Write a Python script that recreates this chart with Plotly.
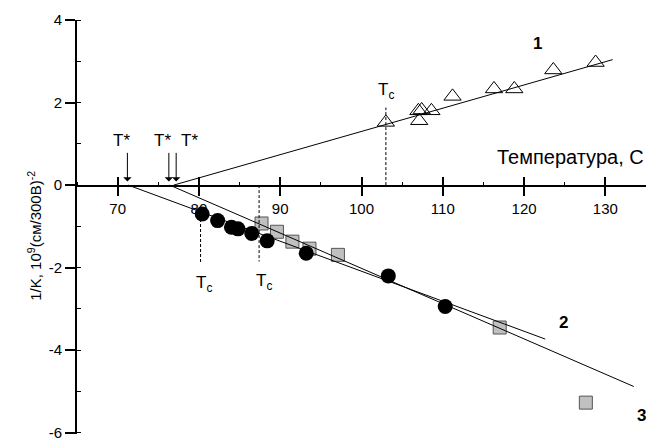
import plotly.graph_objects as go

# ---- data ----
# curve 1: open triangles
s1_x = [103.0, 107.0, 107.4, 107.1, 108.6, 111.2, 116.3, 118.8, 123.6, 128.8]
s1_y = [1.52, 1.80, 1.82, 1.56, 1.80, 2.15, 2.33, 2.33, 2.79, 2.97]
# curve 2: filled circles
s2_x = [80.4, 82.3, 84.0, 84.8, 86.5, 88.4, 93.2, 103.3, 110.3]
s2_y = [-0.70, -0.86, -1.02, -1.06, -1.17, -1.35, -1.65, -2.20, -2.94]
# curve 3: grey squares
s3_x = [87.7, 89.6, 91.5, 93.6, 97.1, 117.0, 127.6]
s3_y = [-0.93, -1.13, -1.37, -1.54, -1.69, -3.45, -5.27]

# linear fits (end points)
fit1_x = [76.9, 130.9]
fit1_y = [0.0, 3.04]
fit2_x = [71.3, 122.6]
fit2_y = [0.0, -3.73]
fit3_x = [76.4, 133.5]
fit3_y = [0.0, -4.88]

# Tc markers (x, dashed from y0 to y1, label position)
tc_x = [103.0, 80.2, 87.4]
tc_y0 = [0.0, -0.70, 0.0]
tc_y1 = [1.88, -1.88, -1.85]
tc_label_x = [103.0, 80.6, 88.0]
tc_label_y = [2.29, -2.39, -2.34]

# T* arrows
tstar_x = [71.2, 76.3, 77.2]
tstar_label_x = [70.5, 75.5, 78.9]

x_ticks = [70, 80, 90, 100, 110, 120, 130]
x_ticktext = ["70", "80", "90", "100", "110", "120", "130"]
y_ticks = [4, 2, 0, -2, -4, -6]
y_ticktext = ["4", "2", "0", "-2", "-4", "-6"]

FONT = "Arial, Liberation Sans, sans-serif"

fig = go.Figure()

# squares (below lines)
fig.add_trace(go.Scatter(
    x=s3_x, y=s3_y, mode="markers",
    marker=dict(symbol="square", size=13, color="#c0c0c0",
                line=dict(color="#555555", width=1)),
    showlegend=False))

# fit lines
for fx, fy in [(fit1_x, fit1_y), (fit2_x, fit2_y), (fit3_x, fit3_y)]:
    fig.add_trace(go.Scatter(x=fx, y=fy, mode="lines",
                             line=dict(color="black", width=1),
                             showlegend=False))

# Tc dashed lines (on overlay axis x2)
for i in range(len(tc_x)):
    fig.add_trace(go.Scatter(x=[tc_x[i], tc_x[i]], y=[tc_y0[i], tc_y1[i]],
                             mode="lines", xaxis="x2",
                             line=dict(color="black", width=1, dash="3px,2px"),
                             showlegend=False))

# circles
fig.add_trace(go.Scatter(
    x=s2_x, y=s2_y, mode="markers",
    marker=dict(symbol="circle", size=15, color="black",
                line=dict(color="black", width=0)),
    showlegend=False))

# triangles
fig.add_trace(go.Scatter(
    x=s1_x, y=s1_y, mode="markers",
    marker=dict(symbol="triangle-up-open", size=15, color="black",
                line=dict(color="black", width=1)),
    showlegend=False))

annotations = []
# T* arrows and labels
for ax_, lx in zip(tstar_x, tstar_label_x):
    annotations.append(dict(x=ax_, y=0.09, xref="x", yref="y", text="",
                            showarrow=True, ax=0, ay=-30, arrowhead=1,
                            arrowsize=1.4, arrowwidth=1, arrowcolor="black"))
    annotations.append(dict(x=lx, y=1.08, xref="x", yref="y", text="T*",
                            showarrow=False, font=dict(size=17, color="black", family=FONT)))
# Tc labels
for lx, ly in zip(tc_label_x, tc_label_y):
    annotations.append(dict(x=lx, y=ly, xref="x", yref="y", text="T<sub>c</sub>",
                            showarrow=False, font=dict(size=17, color="black", family=FONT)))
# curve numbers
for txt, lx, ly in [("1", 121.6, 3.42), ("2", 124.8, -3.34), ("3", 134.4, -5.58)]:
    annotations.append(dict(x=lx, y=ly, xref="x", yref="y", text="<b>%s</b>" % txt,
                            showarrow=False, font=dict(size=17, color="black", family=FONT)))
# x axis title (inside plot)
annotations.append(dict(x=116.4, y=0.67, xref="x", yref="y", text="Температура, С",
                        xanchor="left", showarrow=False,
                        font=dict(size=20, color="black", family=FONT)))
# y axis title
annotations.append(dict(x=-0.095, y=0.48, xref="paper", yref="paper",
                        text="1/K, 10<sup>9</sup>(см/300В)<sup>-2</sup>",
                        textangle=-90, showarrow=False,
                        font=dict(size=15, color="black", family=FONT)))

fig.update_layout(
    width=646, height=441,
    margin=dict(l=77, r=0, t=20, b=0),
    paper_bgcolor="white", plot_bgcolor="white",
    font=dict(family=FONT, size=15, color="black"),
    showlegend=False,
    annotations=annotations,
    xaxis=dict(range=[65, 135], anchor="free", position=0.6,
               showline=True, linewidth=2, linecolor="black",
               ticks="outside", ticklen=9, tickwidth=2, tickcolor="black",
               tickvals=x_ticks, ticktext=x_ticktext,
               tickfont=dict(size=15, family=FONT),
               minor=dict(ticks="inside", ticklen=3, tickwidth=1, dtick=5, tick0=65,
                          tickcolor="black"),
               showgrid=False, zeroline=False),
    xaxis2=dict(range=[65, 135], overlaying="x", anchor="free", position=0.6,
                showline=False, ticks="inside", ticklen=9, tickwidth=2,
                tickcolor="black", tickvals=x_ticks, showticklabels=False,
                showgrid=False, zeroline=False),
    yaxis=dict(range=[-6.03, 4], showline=True, linewidth=2, linecolor="black",
               ticks="outside", ticklen=10, tickwidth=2, tickcolor="black",
               tickvals=y_ticks, ticktext=y_ticktext,
               tickfont=dict(size=15, family=FONT),
               ticklabeloverflow="allow",
               minor=dict(ticks="inside", ticklen=4, tickwidth=1, dtick=1,
                          tickcolor="black"),
               showgrid=False, zeroline=False),
)

fig.write_html("out.html",
               config={"displayModeBar": False},
               post_script="document.body.style.margin='0px';"
                           "document.body.style.overflow='hidden';")
